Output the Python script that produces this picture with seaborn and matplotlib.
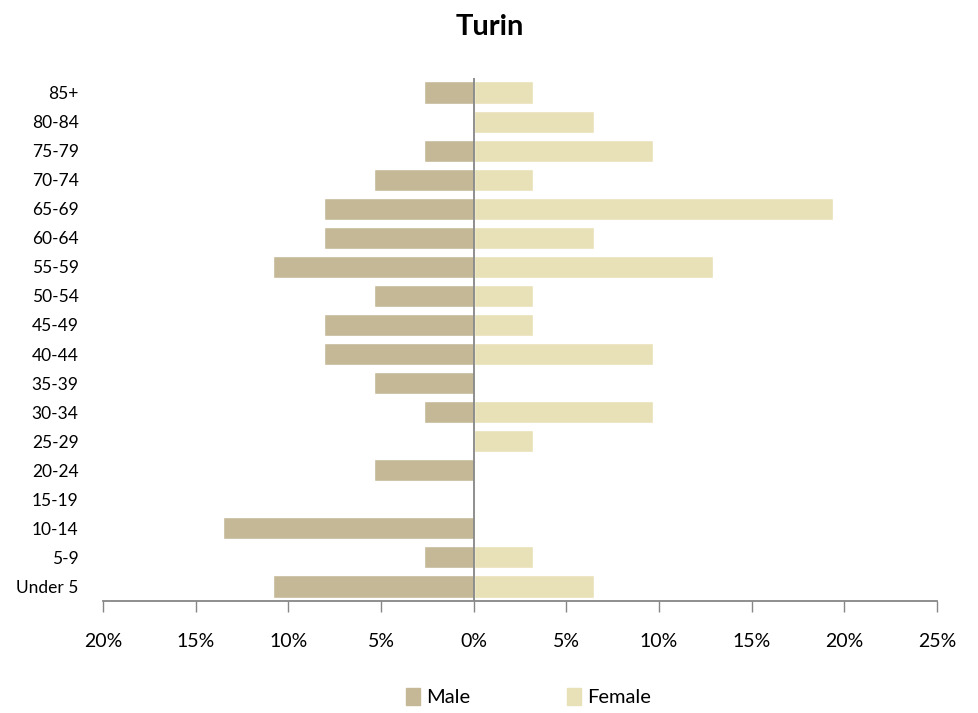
import numpy as np
import pandas as pd
import seaborn as sns
import matplotlib.pyplot as plt
from matplotlib.patches import Patch
from matplotlib.ticker import FuncFormatter

# age groups, top to bottom
ages = ['85+', '80-84', '75-79', '70-74', '65-69', '60-64', '55-59', '50-54',
        '45-49', '40-44', '35-39', '30-34', '25-29', '20-24', '15-19', '10-14',
        '5-9', 'Under 5']
# share of each sex (%)
male = [2.7, 0.0, 2.7, 5.4, 8.1, 8.1, 10.8, 5.4, 8.1, 8.1, 5.4, 2.7, 0.0, 5.4,
        0.0, 13.5, 2.7, 10.8]
female = [3.2, 6.5, 9.7, 3.2, 19.4, 6.5, 12.9, 3.2, 3.2, 9.7, 0.0, 9.7, 3.2,
          0.0, 0.0, 0.0, 3.2, 6.5]

male_col = '#C4B896'
female_col = '#E8E1B8'

df = pd.DataFrame({'age': ages, 'male': -np.array(male), 'female': female})

sns.set_style('white')
plt.rcParams['font.family'] = ['Lato', 'DejaVu Sans']
plt.rcParams['text.color'] = 'black'
plt.rcParams['xtick.color'] = 'black'
plt.rcParams['ytick.color'] = 'black'

fig = plt.figure(figsize=(9.79, 7.13), dpi=100)
ax = fig.add_axes([0.1052, 0.1571, 0.8518, 0.7335])

sns.barplot(data=df, x='male', y='age', order=ages, color=male_col,
            width=0.76, saturation=1, ax=ax)
sns.barplot(data=df, x='female', y='age', order=ages, color=female_col,
            width=0.76, saturation=1, ax=ax)

ax.set_xlim(-20, 25)
ax.set_ylim(len(ages) - 0.5, -0.5)
ax.set_xticks(range(-20, 26, 5))
ax.xaxis.set_major_formatter(FuncFormatter(lambda v, p: '%d%%' % abs(v)))
ax.axvline(0, color='#868686', lw=1.3, zorder=5)

for s in ['top', 'right', 'left']:
    ax.spines[s].set_visible(False)
ax.spines['bottom'].set_color('#868686')
ax.spines['bottom'].set_linewidth(1.3)

ax.tick_params(axis='x', bottom=True, direction='out', length=8, width=1,
               color='#868686', labelcolor='black', labelsize=14, pad=15)
ax.tick_params(axis='y', left=False, labelcolor='black', labelsize=12.5, pad=14)
ax.set_xlabel('')
ax.set_ylabel('')

fig.suptitle('Turin', fontsize=21, fontweight='bold', y=0.98, color='black')

handles = [Patch(color=male_col, label='Male'),
           Patch(color=female_col, label='Female')]
fig.legend(handles=handles, loc='lower center', bbox_to_anchor=(0.54, -0.016),
           ncol=2, frameon=False, fontsize=14.5, handlelength=0.7,
           handleheight=0.9, handletextpad=0.3, columnspacing=4.8)

fig.savefig('out.png', dpi=100)
